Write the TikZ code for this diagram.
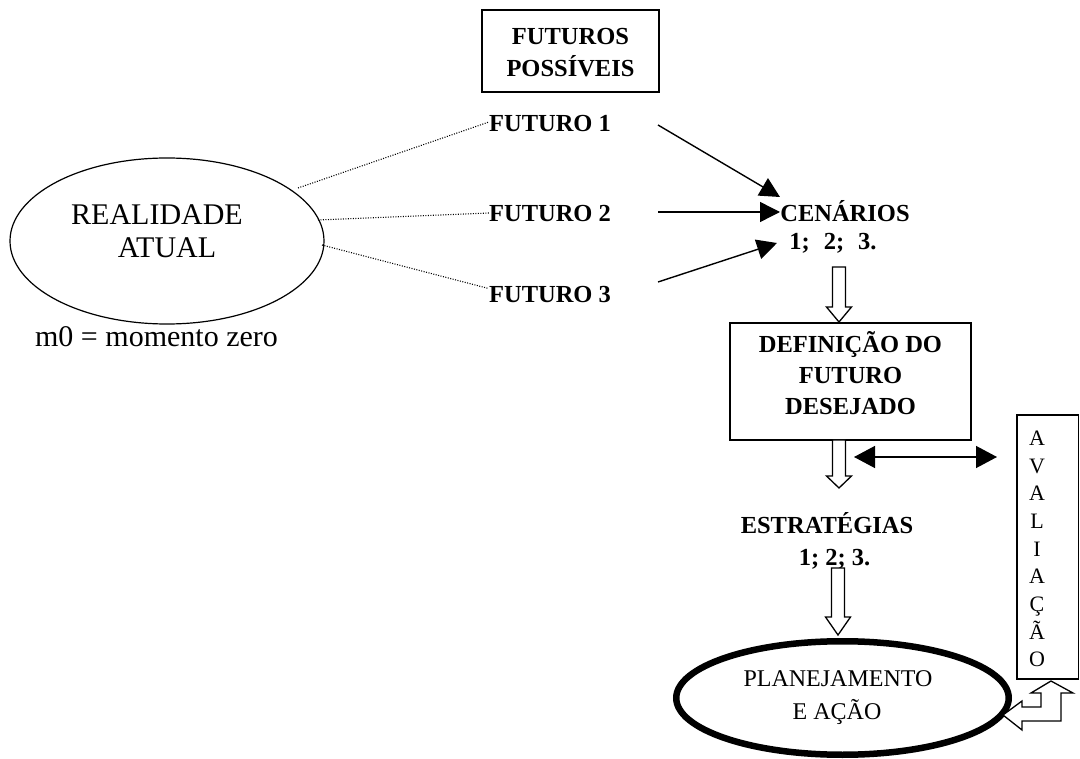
\documentclass[tikz,border=0pt]{standalone}
\usepackage{fontspec}
\setmainfont{Liberation Serif}
\usetikzlibrary{arrows.meta,calc,shapes.geometric}
\newcommand{\hollowdn}[4]{\draw[hollow] (#1-6.5,#2) -- (#1+6.5,#2) -- (#1+6.5,#3) -- (#1+12.5,#3) -- (#1,#4) -- (#1-12.5,#3) -- (#1-6.5,#3) -- cycle;}
\begin{document}
\begin{tikzpicture}[x=1pt,y=-1pt,
  bt/.style={font=\fontsize{24.5}{31}\bfseries\selectfont, inner sep=0pt, anchor=base},
  rt/.style={font=\fontsize{30}{36}\selectfont, inner sep=0pt, anchor=base},
  boxed/.style={draw, line width=1.3pt, inner sep=0pt},
  dotl/.style={line width=1.1pt, dash pattern=on 1pt off 1.5pt, black},
  arr/.style={line width=1.4pt, -{Triangle[length=20pt,width=20pt]}},
  dbl/.style={line width=1.4pt, {Triangle[length=21pt,width=22pt]}-{Triangle[length=21pt,width=22pt]}},
  hollow/.style={draw, line width=1.3pt, fill=white, line join=miter},
]
\useasboundingbox (0,0) rectangle (1080,759);

% top box
\node[boxed, minimum width=177pt, minimum height=82pt] (fp) at (570.5,51) {};
\node[bt] (fpa) at (570.5,45) {FUTUROS};
\node[bt] (fpb) at (570.5,77) {POSSÍVEIS};

% left ellipse
\node[ellipse, draw, line width=1.2pt, minimum width=314pt, minimum height=166pt, inner sep=0pt] (real) at (167,241) {};
\node[rt] (ra) at (157,225) {REALIDADE};
\node[rt] (rb) at (167,258) {ATUAL};
\node[rt] (m0) at (156.5,347) {m0 = momento zero};

% futures
\node[bt] (f1) at (550,132) {FUTURO 1};
\node[bt] (f2) at (550,222) {FUTURO 2};
\node[bt] (f3) at (550,303) {FUTURO 3};

% dotted
\coordinate (d1) at (298,188);
\coordinate (d2) at (318,220);
\coordinate (d3) at (322,245);
\draw[dotl] (d1) -- ($(f1.west)+(0,-2)$);
\draw[dotl] (d2) -- ($(f2.west)+(0,-1)$);
\draw[dotl] (d3) -- ($(f3.north west)+(0,2)$);

% cenarios
\node[bt] (cen) at (845,222) {CENÁRIOS};
\node[bt] (cenn) at (833,250) {1;\hspace{14pt}2;\hspace{14pt}3.};

\coordinate (a1s) at (658,125); \coordinate (a1e) at (780,197);
\coordinate (a2s) at (658,212); \coordinate (a2e) at (780,212);
\coordinate (a3s) at (658,282); \coordinate (a3e) at (777,243);
\draw[arr] (a1s) -- (a1e);
\draw[arr] (a2s) -- (a2e);
\draw[arr] (a3s) -- (a3e);

% hollow arrow to definition box
\hollowdn{839}{267}{307}{322}

% definition box
\node[boxed, minimum width=241pt, minimum height=117pt] (def) at (850.5,381.5) {};
\node[bt] (defa) at (850.5,353) {DEFINIÇÃO DO};
\node[bt] (defb) at (850.5,384) {FUTURO};
\node[bt] (defc) at (850.5,415) {DESEJADO};

\hollowdn{839}{440}{476}{488}

% double arrow
\coordinate (da1) at (854,457); \coordinate (da2) at (997,457);
\draw[dbl] (da1) -- (da2);

% avaliacao box
\node[boxed, minimum width=61.5pt, minimum height=264pt] (av) at (1047.75,547) {};
\node[font=\fontsize{22}{27.7}\selectfont, align=center, inner sep=0pt] (avt) at (1037,549) {A\\V\\A\\L\\I\\A\\Ç\\Ã\\O};

% estrategias
\node[bt] (est) at (827,533) {ESTRATÉGIAS};
\node[bt] (estn) at (834.5,565) {1; 2; 3.};

\hollowdn{838}{568}{617}{635}

% planejamento
\node[ellipse, draw, line width=6.5pt, minimum width=332.5pt, minimum height=113.5pt, inner sep=0pt] (pl) at (842.5,698) {};
\node[font=\fontsize{24}{28}\selectfont, inner sep=0pt, anchor=base] (pla) at (838,686) {PLANEJAMENTO};
\node[font=\fontsize{24}{28}\selectfont, inner sep=0pt, anchor=base] (plb) at (837,719) {E AÇÃO};

% elbow double hollow arrow
\draw[hollow] (1051,681) -- (1073,693) -- (1061,693) -- (1061,721) -- (1022,721) -- (1022,730) -- (1003,715) -- (1022,701) -- (1022,707) -- (1041,707) -- (1041,693) -- (1031,693) -- cycle;

\end{tikzpicture}
\end{document}
